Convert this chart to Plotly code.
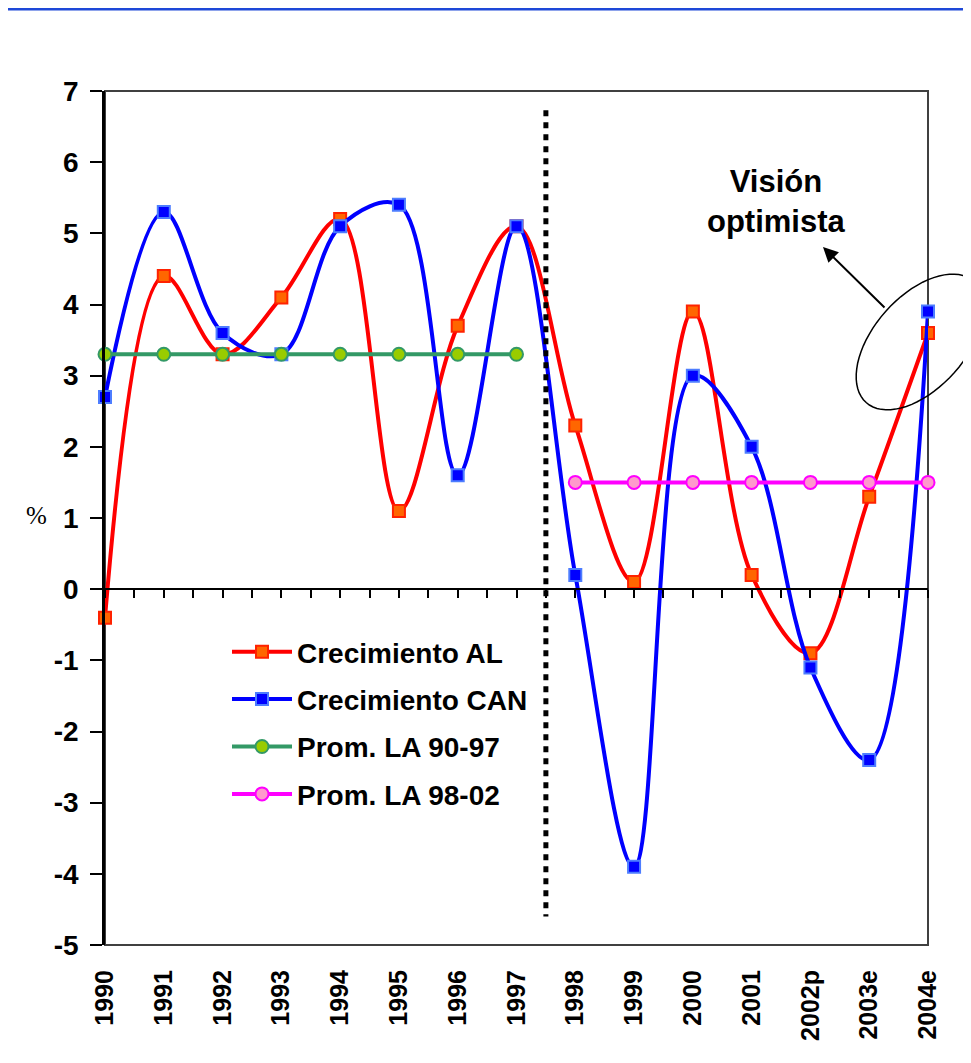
import numpy as np
import plotly.graph_objects as go

# ---------------- data ----------------
years = ["1990", "1991", "1992", "1993", "1994", "1995", "1996", "1997",
         "1998", "1999", "2000", "2001", "2002p", "2003e", "2004e"]
crec_al = [-0.4, 4.4, 3.3, 4.1, 5.2, 1.1, 3.7, 5.1, 2.3, 0.1, 3.9, 0.2, -0.9, 1.3, 3.6]
crec_can = [2.7, 5.3, 3.6, 3.3, 5.1, 5.4, 1.6, 5.1, 0.2, -3.9, 3.0, 2.0, -1.1, -2.4, 3.9]
prom_90_97_years = years[:8]
prom_90_97 = [3.3] * 8
prom_98_02_years = years[8:]
prom_98_02 = [1.5] * 7
y_tickvals = [-5, -4, -3, -2, -1, 0, 1, 2, 3, 4, 5, 6, 7]
y_ticktext = ["-5", "-4", "-3", "-2", "-1", "0", "1", "2", "3", "4", "5", "6", "7"]

# page is offset by the browser's default 8px body margin
OFF = 8
W, H = 971 - OFF, 1063 - OFF
ML, MR, MT, MB = 105 - OFF, 43, 91 - OFF, 118
PW, PH = W - ML - MR, H - MT - MB
# plot area in page coordinates
PL, PB = 105, 945


def px2paper(px, py):
    """page pixel (reference coordinates) -> paper fraction"""
    return (px - PL) / PW, (PB - py) / PH


fig = go.Figure()

fig.add_trace(go.Scatter(
    x=years, y=crec_al, name="Crecimiento AL", mode="lines+markers",
    line=dict(color="#FF0000", width=4, shape="spline", smoothing=1.0),
    marker=dict(symbol="square", size=12, color="#FF6600",
                line=dict(color="#FF2200", width=2)),
    cliponaxis=False, legendgroup="a"))
fig.add_trace(go.Scatter(
    x=years, y=crec_can, name="Crecimiento CAN", mode="lines+markers",
    line=dict(color="#0000FF", width=4, shape="spline", smoothing=1.0),
    marker=dict(symbol="square", size=12, color="#0000FF",
                line=dict(color="#4D7DFF", width=2)),
    cliponaxis=False, legendgroup="b"))
fig.add_trace(go.Scatter(
    x=prom_90_97_years, y=prom_90_97, name="Prom. LA 90-97", mode="lines+markers",
    line=dict(color="#339966", width=4),
    marker=dict(symbol="circle", size=13, color="#99CC00",
                line=dict(color="#339966", width=2)),
    cliponaxis=False, legendgroup="c"))
fig.add_trace(go.Scatter(
    x=prom_98_02_years, y=prom_98_02, name="Prom. LA 98-02", mode="lines+markers",
    line=dict(color="#FF00FF", width=4),
    marker=dict(symbol="circle", size=13, color="#FF99CC",
                line=dict(color="#FF00FF", width=2)),
    cliponaxis=False, legendgroup="d"))
# helper trace for the zero-line axis
fig.add_trace(go.Scatter(x=[0, 14], y=[0, 0], xaxis="x2", mode="lines",
                         line=dict(width=0), opacity=0, showlegend=False,
                         hoverinfo="skip"))

bold = dict(family="Arial", color="black", weight="bold")

fig.update_layout(
    width=W, height=H,
    margin=dict(l=ML, r=MR, t=MT, b=MB),
    paper_bgcolor="white", plot_bgcolor="rgba(0,0,0,0)",
    showlegend=True,
    legend=dict(x=px2paper(227, 0)[0], y=px2paper(0, 627)[1], xanchor="left", yanchor="top",
                bgcolor="rgba(0,0,0,0)", font=dict(size=28, **bold),
                tracegroupgap=8, traceorder="grouped", itemwidth=60),
    xaxis=dict(type="category", range=[0, 14], showline=False, showgrid=False,
               zeroline=False, ticks="", tickangle=-90,
               tickfont=dict(size=25, **bold), ticklabelstandoff=19),
    xaxis2=dict(overlaying="x", anchor="free", position=5 / 12, range=[0, 14],
                tick0=0, dtick=0.5, ticks="outside", ticklen=8, tickwidth=2,
                tickcolor="black", showline=True, linecolor="black", linewidth=2,
                showticklabels=False, showgrid=False, zeroline=False, side="bottom"),
    yaxis=dict(range=[-5, 7], tickvals=y_tickvals, ticktext=y_ticktext,
               ticks="outside", ticklen=12,
               tickwidth=2, tickcolor="black", showline=True, linecolor="black",
               linewidth=2.5, showgrid=False, zeroline=False,
               tickfont=dict(size=28, **bold), ticklabelstandoff=6),
    yaxis2=dict(overlaying="y", anchor="x", side="left", range=[-5, 7],
                tickvals=y_tickvals, ticks="inside", ticklen=11, tickwidth=2,
                tickcolor="black", showline=False, showticklabels=False,
                showgrid=False, zeroline=False),
)

shapes = []
# plot frame
shapes.append(dict(type="rect", xref="paper", yref="paper", x0=0, y0=0, x1=1, y1=1,
                   line=dict(color="#404040", width=2), layer="below"))
# dotted separator line
shapes.append(dict(type="line", xref="x", yref="y", x0=7.5, x1=7.5, y0=6.73, y1=-4.6,
                   line=dict(color="black", width=5, dash="6px,6px")))
# ellipse (rotated) around 2004e
cx, cy, a, b, th = 920, 342, 81, 46, np.deg2rad(-48.4)
t = np.linspace(0, 2 * np.pi, 73)
ex = cx + a * np.cos(t) * np.cos(th) - b * np.sin(t) * np.sin(th)
ey = cy + a * np.cos(t) * np.sin(th) + b * np.sin(t) * np.cos(th)
pts = [px2paper(u, v) for u, v in zip(ex, ey)]
path = "M " + " L ".join(f"{p[0]:.4f},{p[1]:.4f}" for p in pts) + " Z"
shapes.append(dict(type="path", xref="paper", yref="paper", path=path,
                   line=dict(color="black", width=1.5)))
# window border (blue line along the top edge)
bx0, by0 = px2paper(OFF, OFF + 1.2)
bx1, by1 = px2paper(980, 1080)
shapes.append(dict(type="rect", xref="paper", yref="paper", x0=bx0 - 0.01, y0=by1, x1=bx1, y1=by0,
                   line=dict(color="#1E48D8", width=2.5)))
fig.update_layout(shapes=shapes)

hx, hy = px2paper(823, 247)
tx, ty = px2paper(776, 201)
pcx, pcy = px2paper(36, 515)
fig.update_layout(annotations=[
    dict(xref="paper", yref="paper", x=hx, y=hy, text="", showarrow=True,
         ax=63, ay=62, axref="pixel", ayref="pixel", arrowhead=2, arrowsize=1.5,
         arrowwidth=2, arrowcolor="black"),
    dict(xref="paper", yref="paper", x=tx, y=ty, text="Visión<br>optimista",
         showarrow=False, font=dict(size=31, **bold), xanchor="center", yanchor="middle"),
    dict(xref="paper", yref="paper", x=pcx, y=pcy, text="%", showarrow=False,
         font=dict(family="Liberation Serif", size=25, color="black"),
         xanchor="center", yanchor="middle"),
])

fig.write_html("out.html")
